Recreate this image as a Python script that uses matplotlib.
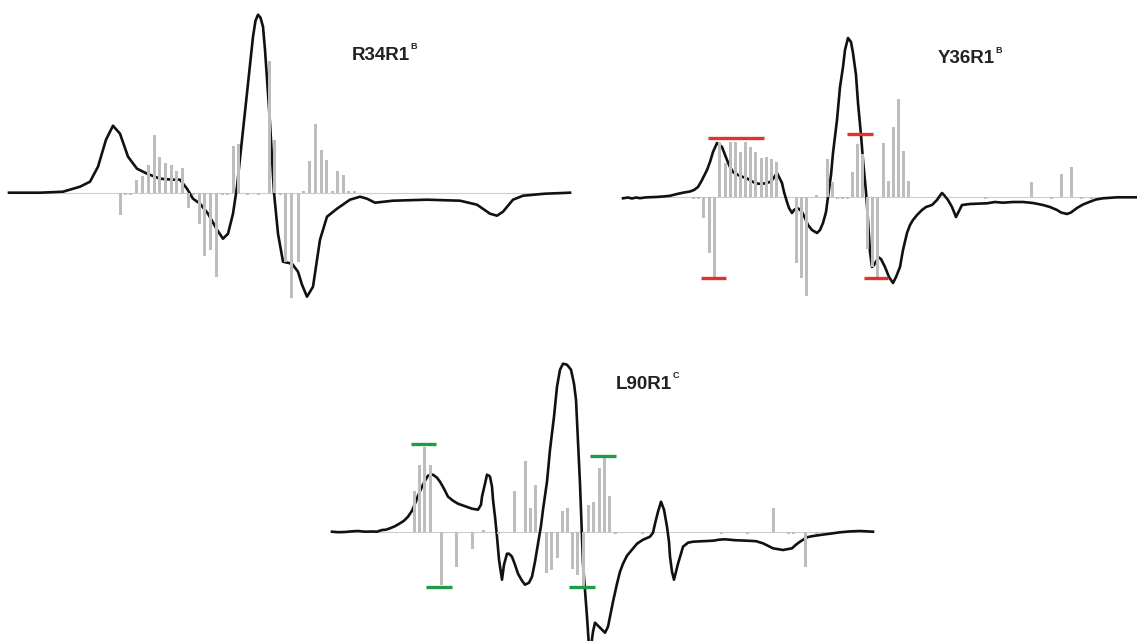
import matplotlib
matplotlib.use('Agg')
import matplotlib.pyplot as plt

W, H = 1137, 641

# R34R1 spectrum and stick amplitudes
r34_x = [9, 40, 63, 80, 90, 98, 106, 113, 120, 128, 137, 147, 160, 173, 180, 187, 193, 200, 208, 217,
         223, 228, 233, 237, 242, 248, 253, 255.5, 258, 260.5, 263, 265, 270, 274, 278, 283, 292, 298, 302, 307,
         313, 320, 327, 337, 350, 360, 367, 375, 393, 427, 460, 477, 490, 497, 503, 513, 523, 545, 570]
r34_y = [0, 0, 1, 6, 11, 26, 53, 67, 59, 36, 24, 19, 14, 13, 13, 4, -6, -11, -21, -37,
         -46, -41, -21, 6, 53, 109, 156, 172, 178, 175, 166, 143, 70, 0, -41, -69, -71, -79, -92, -104,
         -94, -47, -24, -16, -7, -4, -6, -10, -8, -7, -8, -12, -21, -23, -19, -7, -3, -1, 0]
r34_bar_x = [120, 125, 130, 136, 142, 148, 154, 159, 165, 171, 176, 182, 188, 193, 199, 204, 210, 216, 222, 227,
             233, 238, 247, 258, 269, 274, 280, 285, 291, 298, 303, 309, 315, 321, 326, 332, 337, 343, 348, 354]
r34_bar_h = [-22, -2, -2, 13, 17, 28, 58, 36, 30, 28, 22, 25, -15, -2, -31, -63, -57, -84, -2, -2,
             47, 49, -2, -2, 132, 53, -2, -69, -105, -69, 2, 32, 69, 43, 33, 2, 22, 18, 2, 2]

# Y36R1
y36_x = [13, 18, 22, 26, 30, 35, 40, 46, 53, 60, 67, 74, 80, 84, 88, 92, 97, 100, 103, 107,
         112, 117, 120, 123, 128, 133, 138, 143, 147, 152, 156, 160, 163, 167, 169, 172, 174, 177, 179, 182,
         184, 187, 189, 192, 195, 198, 202, 207, 210, 213, 216, 218, 221, 223, 227, 230, 233, 235, 238, 241,
         243, 246, 248, 251, 253, 256, 258, 260, 262, 264, 267, 268, 271, 275, 279, 283, 286, 290, 293, 297,
         300, 303, 307, 312, 316, 322, 327, 329, 332, 334, 338, 342, 346, 349, 352, 356, 360, 377, 385, 393,
         403, 413, 423, 433, 440, 447, 451, 457, 461, 467, 473, 480, 486, 493, 507, 526]
y36_y = [-1.3, -0.5, -1.5, -0.5, -1.2, -0.5, -0.2, 0, 0.5, 1.2, 3, 4.5, 5.5, 7, 10, 17, 27, 35, 45, 54,
         50, 37, 30, 25, 22, 20, 18, 15, 13.5, 13, 14, 15, 18, 24, 20, 14, 5, -5, -11, -16,
         -13, -11, -12, -15, -21, -28, -33, -36, -33, -26, -15, 0, 22, 44, 77, 110, 130, 147, 159, 155,
         144, 122, 94, 62, 37, 5, -23, -55, -70, -68, -63, -60, -62, -70, -80, -86, -80, -70, -53, -36,
         -28, -23, -18, -13, -10, -8, -3, 0, 4, 2, -3, -10, -20, -14, -8, -7.5, -7, -6.3, -5, -5.7,
         -5, -5, -6, -8, -10, -13, -15.5, -17, -15.5, -11, -7.5, -4.7, -2.5, -1.3, -0.3, -0.3]
y36_bar_x = [83, 88, 93, 99, 104, 109, 115, 120, 125, 130, 135, 140, 145, 151, 156, 161, 166, 186, 191, 196,
             206, 217, 222, 227, 232, 237, 242, 247, 252, 257, 262, 267, 273, 278, 283, 288, 293, 298, 375, 421,
             441, 451, 461, 471, 481]
y36_bar_h = [-2, -2, -21, -56, -81, 55, 34, 55, 55, 45, 55, 50, 45, 39, 40, 38, 35, -66, -81, -99,
             2, 38, 15, -2, -2, -2, 25, 53, 43, -52, -70, -81, 54, 16, 70, 98, 46, 16, -2, 15,
             -2, 23, 30, -2, -2]
y36_cap_left = [98, 91, 237, 254]
y36_cap_right = [154, 116, 263, 278]
y36_cap_level = [59, -81, 63, -81]

# L90R1
l90_x = [7, 13, 20, 26, 33, 40, 47, 52, 57, 61, 65, 70, 75, 79, 83, 87, 90, 93, 97, 100,
         103, 106, 108, 112, 115, 119, 123, 128, 133, 140, 147, 153, 156, 157, 160, 162, 164, 165, 167, 168,
         170, 172, 174, 177, 179, 182, 184, 187, 190, 193, 197, 200, 204, 207, 210, 213, 216, 218, 222, 225,
         229, 232, 235, 238, 242, 246, 249, 251, 253, 255, 258, 262, 264, 266, 268, 270, 273, 275, 280, 283,
         285, 288, 292, 295, 298, 302, 307, 312, 318, 325, 328, 330, 333, 336, 339, 342, 344, 345, 347, 349,
         351, 353, 356, 358, 363, 368, 388, 394, 400, 410, 422, 431, 438, 448, 458, 467, 471, 475, 482, 487,
         495, 505, 515, 525, 535, 548]
l90_y = [0, -0.5, -0.3, 0.3, 0.7, 0, 0.2, 0, 1.7, 2, 3.4, 5.5, 8.4, 11, 15, 21, 28, 36, 45, 51,
         56, 57, 57, 54, 50, 43, 35, 31, 28, 25.5, 23, 22, 27, 35, 48, 57, 56, 55, 45, 32,
         15, -5, -28, -48, -33, -22, -22, -25, -33, -42, -49, -53, -51, -45, -30, -12, 6, 22, 50, 82,
         115, 145, 162, 168, 167, 162, 148, 132, 90, 48, -32, -85, -115, -115, -100, -91, -94, -96, -101, -95,
         -85, -70, -52, -40, -32, -24, -18, -12, -8, -5, -1, 8, 20, 30, 22, 5, -10, -25, -40, -48,
         -40, -32, -22, -15, -11, -10, -9, -8, -7.6, -8.5, -9, -9.5, -11.6, -16.6, -18.3, -16.6, -13, -10, -5.6, -4.5,
         -3.3, -2, -0.6, 0.3, 0.7, 0]
l90_bar_x = [89, 94, 99, 105, 116, 131, 147, 158, 173, 189, 200, 205, 210, 221, 226, 232, 237, 242, 247, 252,
             258, 263, 268, 274, 279, 284, 290, 317, 396, 422, 448, 463, 468, 480, 491]
l90_bar_h = [41, 67, 85, 67, -53, -35, -17, 2, -2, 41, 71, 24, 47, -41, -38, -26, 21, 24, -37, -43,
             -55, 27, 30, 64, 76, 36, -2, -2, -2, -2, 24, -2, -2, -35, -2]
l90_cap_left = [86, 101, 244, 265]
l90_cap_right = [111, 127, 270, 291]
l90_cap_level = [88, -55, -55, 76]

LABEL_FONT = ['Liberation Sans', 'DejaVu Sans']


def draw_panel(fig, box, base, xs, ys, bar_x, bar_h, label, sup, label_pos,
               caps=None, cap_color=None):
    left, top, w, h = box
    ax = fig.add_axes([left / W, 1 - (top + h) / H, w / W, h / H])
    ax.set_xlim(0, w)
    ax.set_ylim(base - top - h, base - top)
    ax.axis('off')
    ax.axhline(0, xmin=min(xs) / w, xmax=max(xs) / w, color='#cccccc', lw=0.8, zorder=1)
    ax.plot(xs, ys, color='#111111', lw=1.9, solid_joinstyle='round', zorder=2)
    ax.bar(bar_x, bar_h, width=3.0, color='#bdbdbd', linewidth=0, zorder=3)
    if caps is not None:
        ax.hlines(caps[2], caps[0], caps[1], colors=cap_color, lw=2.4, zorder=4)
    t = ax.text(label_pos[0], label_pos[1], label, family=LABEL_FONT, fontweight='bold',
                fontsize=13.5, color='#222222', ha='left', va='baseline')
    ax.annotate(sup, xy=(1, 0.72), xycoords=t, xytext=(0.5, 0), textcoords='offset points',
                family=LABEL_FONT, fontweight='bold', fontsize=6.5, color='#222222',
                ha='left', va='bottom')
    return ax


fig = plt.figure(figsize=(W / 100, H / 100), dpi=100)
fig.patch.set_facecolor('white')

draw_panel(fig, (0, 0, 600, 320), 192.7, r34_x, r34_y, r34_bar_x, r34_bar_h,
           'R34R1', 'B', (352, 133))
draw_panel(fig, (610, 0, 527, 320), 197, y36_x, y36_y, y36_bar_x, y36_bar_h,
           'Y36R1', 'B', (328, 134),
           caps=(y36_cap_left, y36_cap_right, y36_cap_level), cap_color='#e3312d')
draw_panel(fig, (325, 330, 560, 311), 531.7, l90_x, l90_y, l90_bar_x, l90_bar_h,
           'L90R1', 'C', (291, 143),
           caps=(l90_cap_left, l90_cap_right, l90_cap_level), cap_color='#1e9a4b')

fig.savefig('out.png', dpi=100, facecolor='white')
